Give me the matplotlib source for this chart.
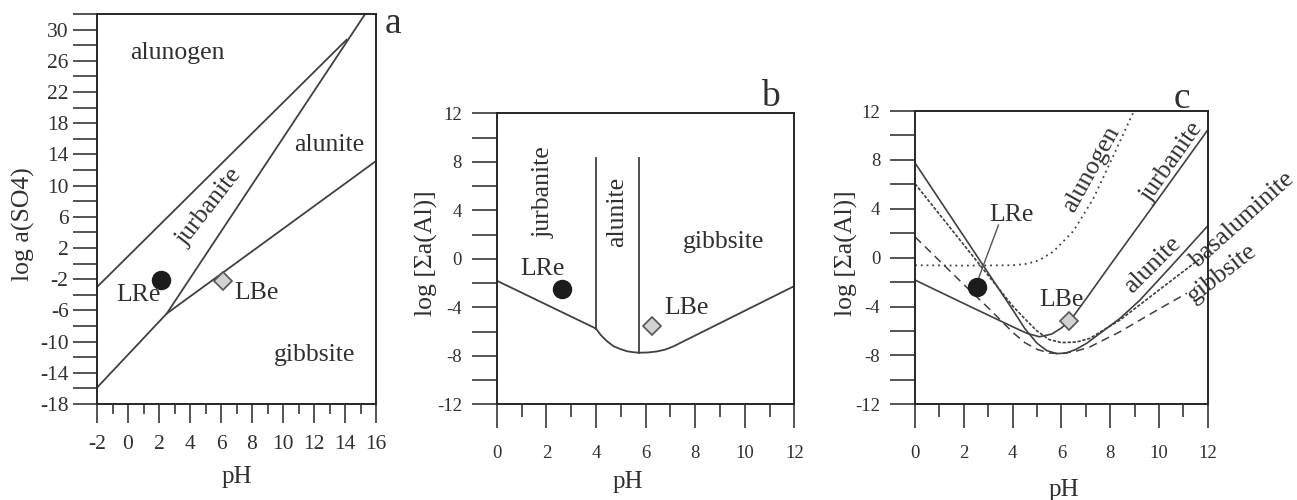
"""
Stability diagrams for Al sulfate minerals (panels a, b, c)
"""

import matplotlib
matplotlib.use('Agg')
import matplotlib.pyplot as plt
import numpy as np

plt.rcParams['font.family'] = ['Liberation Serif', 'DejaVu Serif']
plt.rcParams['axes.unicode_minus'] = False

INK = '#262626'
LINE = '#404040'
TXT = '#303030'

# ---- panel a : log a(SO4) vs pH
a_upper_x = [-2.0, 14.1]
a_upper_y = [-3.0, 28.7]
a_steep_x = [2.5, 15.3]
a_steep_y = [-6.4, 32.0]
a_lower_x = [-2.0, 2.5, 16.0]
a_lower_y = [-15.9, -6.4, 13.15]
a_lre = [2.1, -2.1]
a_lbe = [6.15, -2.25]
a_labels = [
    ('alunogen', 3.2, 27.0, 0),
    ('alunite', 13.0, 15.2, 0),
    ('jurbanite', 5.25, 7.3, 52),
    ('gibbsite', 12.05, -11.7, 0),
    ('LRe', 0.7, -4.0, 0),
    ('LBe', 8.3, -3.8, 0),
]

# ---- panel b : log [Sa(Al)] boundaries
b_curve_x = [0.0, 4.0, 4.2, 4.45, 4.7, 5.0, 5.25, 5.5, 5.75, 6.1, 6.45,
             6.8, 7.12, 12.0]
b_curve_y = [-1.8, -5.75, -6.3, -6.8, -7.2, -7.45, -7.62, -7.7, -7.74,
             -7.72, -7.64, -7.48, -7.22, -2.24]
b_vert_x = [4.0, 5.73]
b_vert_bottom = [-5.75, -7.74]
b_vert_top = [8.35, 8.3]
b_lre = [2.62, -2.52]
b_lbe = [6.25, -5.52]
b_labels = [
    ('jurbanite', 1.88, 5.5, 90),
    ('alunite', 4.84, 3.9, 90),
    ('gibbsite', 9.14, 1.4, 0),
    ('LRe', 1.85, -0.85, 0),
    ('LBe', 7.66, -4.05, 0),
]

# ---- panel c : solubility curves
c_jurb_x = [0.0, 2.0, 4.0, 4.6, 5.1, 5.6, 6.0, 6.36, 7.0, 8.0, 10.0, 12.0]
c_jurb_y = [-1.83, -3.75, -5.65, -6.2, -6.47, -6.25, -5.75, -5.15, -3.4,
            -0.6, 4.9, 10.45]
c_alun_x = [0.0, 2.0, 4.0, 4.5, 5.0, 5.4, 5.8, 6.2, 6.6, 7.04, 8.4, 9.22,
            10.5, 12.0]
c_alun_y = [7.75, 1.75, -4.25, -5.8, -7.0, -7.6, -7.85, -7.8, -7.5, -7.0,
            -4.97, -3.47, -0.7, 2.6]
c_basa_x = [0.0, 2.0, 3.0, 4.0, 4.5, 5.0, 5.5, 6.0, 6.63, 7.17, 8.4, 10.0,
            11.8]
c_basa_y = [6.05, 1.05, -1.45, -3.95, -5.0, -6.0, -6.7, -6.95, -6.9, -6.6,
            -5.1, -2.65, 0.1]
c_gibb_x = [0.0, 2.0, 3.0, 4.0, 4.5, 5.0, 5.5, 6.0, 6.6, 7.17, 8.4, 10.0,
            11.15]
c_gibb_y = [1.7, -2.2, -4.1, -6.1, -6.95, -7.5, -7.8, -7.85, -7.65, -7.3,
            -6.06, -4.2, -2.9]
c_alng_x = [0.0, 2.0, 4.0, 4.6, 5.1, 5.67, 6.5, 7.3, 8.1, 8.97]
c_alng_y = [-0.62, -0.65, -0.62, -0.5, -0.2, 0.5, 2.2, 4.8, 8.2, 12.0]
c_lre = [2.53, -2.37]
c_lbe = [6.33, -5.2]
c_leader_x = [3.42, 2.62]
c_leader_y = [2.67, -1.6]
c_labels = [
    ('alunogen', 7.24, 7.2, 61),
    ('jurbanite', 10.55, 7.8, 55),
    ('alunite', 9.75, -0.6, 45),
    ('basaluminite', 13.45, 3.1, 42),
    ('gibbsite', 12.57, -1.28, 38),
    ('LRe', 3.96, 3.5, 0),
    ('LBe', 6.0, -3.45, 0),
]


def style_axes(ax, ylen, xmaj, xmin, lab_size, xpad, ypad):
  for sp in ax.spines.values():
    sp.set_color(INK)
    sp.set_linewidth(1.4)
  ax.tick_params(axis='y', which='both', direction='out', length=ylen,
                 width=1.1, color=INK, labelsize=lab_size, pad=ypad,
                 labelcolor=TXT)
  ax.tick_params(axis='x', which='major', direction='out', length=xmaj,
                 width=1.1, color=INK, labelsize=lab_size, pad=xpad,
                 labelcolor=TXT)
  ax.tick_params(axis='x', which='minor', direction='out', length=xmin,
                 width=1.1, color=INK)


def put_labels(ax, labels, size=18.5):
  for text, x, y, rot in labels:
    ax.text(x, y, text, fontsize=size, color=TXT, rotation=rot,
            ha='center', va='center', rotation_mode='anchor', clip_on=False)


def markers(ax, lre, lbe, ms_c=13, ms_d=9.5):
  ax.plot(lre[0], lre[1], 'o', ms=ms_c, color='#1c1c1c', zorder=5)
  ax.plot(lbe[0], lbe[1], 'D', ms=ms_d, mfc='#d2d2d2', mec='#555555',
          mew=1.2, zorder=5)


fig = plt.figure(figsize=(12.97, 5.0), dpi=100)

# panel a
ax = fig.add_axes([0.0748, 0.192, 0.2151, 0.780])
lw = 1.3
ax.plot(a_upper_x, a_upper_y, color=LINE, lw=lw)
ax.plot(a_steep_x, a_steep_y, color=LINE, lw=lw)
ax.plot(a_lower_x, a_lower_y, color=LINE, lw=lw)
markers(ax, a_lre, a_lbe, 13, 9)
put_labels(ax, a_labels)
ax.set_xlim(-2, 16)
ax.set_ylim(-18, 32)
ax.set_xticks(np.arange(-2, 17, 2))
ax.set_xticks(np.arange(-1, 16, 2), minor=True)
ax.set_yticks(np.arange(-18, 31, 4))
ax.set_yticks(np.arange(-16, 33, 4), minor=True)
style_axes(ax, 17, 14, 7, 15.5, 8.5, 3.5)
ax.set_ylabel('log a(SO4)', fontsize=18.5, color=TXT, va='center')
ax.yaxis.set_label_coords(-0.265, 0.46)
ax.set_xlabel('pH', fontsize=18, color=TXT, va='center')
ax.xaxis.set_label_coords(0.5, -0.186)
ax.text(1.062, 0.976, 'a', transform=ax.transAxes, fontsize=27,
        color=TXT, ha='center', va='center')

# panel b
ax = fig.add_axes([0.383, 0.1913, 0.2295, 0.582])
ax.plot(b_curve_x, b_curve_y, color=LINE, lw=lw)
for x, y0, y1 in zip(b_vert_x, b_vert_bottom, b_vert_top):
  ax.plot([x, x], [y0, y1], color=LINE, lw=lw)
markers(ax, b_lre, b_lbe)
put_labels(ax, b_labels)
ax.set_xlim(0, 12)
ax.set_ylim(-12, 12)
ax.set_xticks(np.arange(0, 13, 2))
ax.set_xticks(np.arange(1, 12, 2), minor=True)
ax.set_yticks(np.arange(-12, 13, 4))
ax.set_yticks(np.arange(-10, 12, 4), minor=True)
style_axes(ax, 18, 17, 9, 13.5, 12, 7)
ax.set_ylabel('log [Σa(Al)]', fontsize=18.5, color=TXT, va='center')
ax.yaxis.set_label_coords(-0.235, 0.519)
ax.set_xlabel('pH', fontsize=18, color=TXT, va='center')
ax.xaxis.set_label_coords(0.442, -0.266)
ax.text(0.918, 1.057, 'b', transform=ax.transAxes, fontsize=27,
        color=TXT, ha='center', va='center')

# panel c
ax = fig.add_axes([0.7055, 0.1913, 0.2257, 0.5867])
ax.plot(c_alng_x, c_alng_y, color=LINE, lw=1.3, linestyle=(0, (1, 2.2)))
ax.plot(c_jurb_x, c_jurb_y, color=LINE, lw=1.2)
ax.plot(c_alun_x, c_alun_y, color=LINE, lw=1.2)
ax.plot(c_basa_x, c_basa_y, color=LINE, lw=1.2, linestyle=(0, (2.0, 1.0)))
ax.plot(c_gibb_x, c_gibb_y, color=LINE, lw=1.1, linestyle=(0, (5.5, 3.5)))
ax.plot(c_leader_x, c_leader_y, color='#555555', lw=1.0)
markers(ax, c_lre, c_lbe)
put_labels(ax, c_labels)
ax.set_xlim(0, 12)
ax.set_ylim(-12, 12)
ax.set_xticks(np.arange(0, 13, 2))
ax.set_xticks(np.arange(1, 12, 2), minor=True)
ax.set_yticks(np.arange(-12, 13, 4))
ax.set_yticks(np.arange(-10, 12, 4), minor=True)
style_axes(ax, 18, 17, 9, 13.5, 12, 7)
ax.set_ylabel('log [Σa(Al)]', fontsize=18.5, color=TXT, va='center')
ax.yaxis.set_label_coords(-0.233, 0.515)
ax.set_xlabel('pH', fontsize=18, color=TXT, va='center')
ax.xaxis.set_label_coords(0.507, -0.292)
ax.text(0.911, 1.043, 'c', transform=ax.transAxes, fontsize=27,
        color=TXT, ha='center', va='center')

fig.savefig('out.png', dpi=100)
